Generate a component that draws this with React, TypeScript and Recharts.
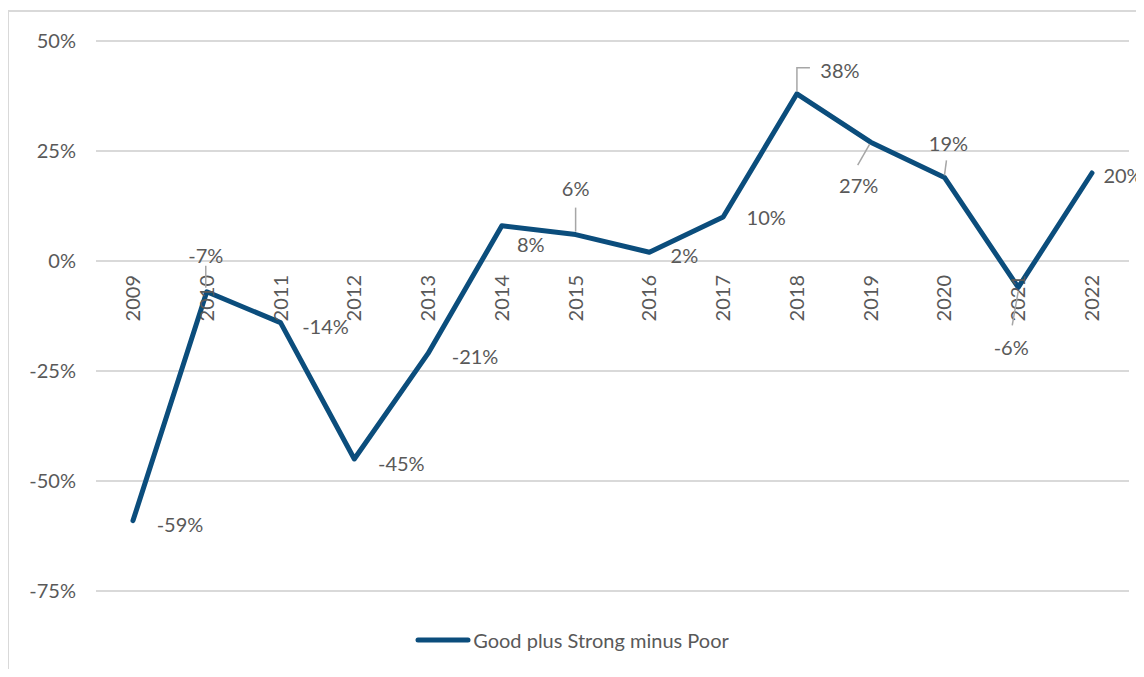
import React from 'react';
import {
  LineChart,
  Line,
  XAxis,
  YAxis,
  CartesianGrid,
  Legend,
  LabelList,
} from 'recharts';

const years = [
  '2009', '2010', '2011', '2012', '2013', '2014', '2015',
  '2016', '2017', '2018', '2019', '2020', '2021', '2022',
];
const netValues = [-59, -7, -14, -45, -21, 8, 6, 2, 10, 38, 27, 19, -6, 20];
const yTicks = [-75, -50, -25, 0, 25, 50];

const seriesName = 'Good plus Strong minus Poor';
const lineColor = '#0b4d7c';
const textColor = '#595959';
const gridColor = '#d9d9d9';
const font = 'Lato, "Open Sans", sans-serif';

// where each data label sits relative to its point, plus optional leader line
type Placement = { dx: number; dy: number; leader?: number[][] };
const placements: Placement[] = [
  { dx: 47, dy: 3 },
  { dx: -1, dy: -37, leader: [[-1, -26], [-1, -4]] },
  { dx: 45, dy: 3 },
  { dx: 47, dy: 4 },
  { dx: 47, dy: 3 },
  { dx: 29, dy: 18 },
  { dx: 0, dy: -47, leader: [[0, -27], [0, -3]] },
  { dx: 35, dy: 3 },
  { dx: 43, dy: 0 },
  { dx: 43, dy: -24, leader: [[13, -26], [0, -26], [0, -2]] },
  { dx: -12, dy: 43, leader: [[-1, 2], [-13, 23]] },
  { dx: 4, dy: -34, leader: [[2, -17], [0, -2]] },
  { dx: -7, dy: 60, leader: [[0, 4], [-6, 38]] },
  { dx: 31, dy: 2 },
];

const data = years.map((year, i) => ({ year, value: netValues[i] }));

const DataLabel = (props: any) => {
  const { x, y, value, index } = props;
  const p = placements[index];
  return (
    <g>
      {p.leader && (
        <polyline
          points={p.leader.map(([lx, ly]) => `${x + lx},${y + ly}`).join(' ')}
          fill='none'
          stroke='#a6a6a6'
          strokeWidth={1.5}
        />
      )}
      <text
        x={x + p.dx}
        y={y + p.dy}
        textAnchor='middle'
        dominantBaseline='central'
        fontSize={20}
        fontFamily={font}
        fill={textColor}
      >
        {`${value}%`}
      </text>
    </g>
  );
};

const YearLabel = (props: any) => {
  const { x, y, index } = props;
  return (
    <text
      transform={`translate(${x + 7},${y + 14}) rotate(-90)`}
      textAnchor='end'
      fontSize={20}
      fontFamily={font}
      fill={textColor}
    >
      {years[index]}
    </text>
  );
};

const LegendContent = () => (
  <div
    style={{
      display: 'flex',
      justifyContent: 'center',
      alignItems: 'center',
      fontFamily: font,
      fontSize: 20,
      color: textColor,
    }}
  >
    <svg width={56} height={10} style={{ marginRight: 2 }}>
      <line
        x1={3}
        y1={5}
        x2={53}
        y2={5}
        stroke={lineColor}
        strokeWidth={5}
        strokeLinecap='round'
      />
    </svg>
    <span>{seriesName}</span>
  </div>
);

export default function App() {
  return (
    <div
      style={{
        position: 'relative',
        margin: -8,
        width: 1144,
        height: 677,
        overflow: 'hidden',
        background: '#fff',
      }}
    >
      <div
        style={{
          position: 'absolute',
          left: 7,
          top: 10,
          width: 1160,
          height: 700,
          border: `2px solid ${gridColor}`,
        }}
      />
      <div style={{ position: 'absolute', left: 0, top: 0 }}>
        <LineChart
          width={1144}
          height={677}
          data={data}
          margin={{ top: 41, right: 15, bottom: 86, left: 0 }}
        >
          <CartesianGrid
            vertical={false}
            stroke={gridColor}
            strokeWidth={2}
          />
          <XAxis dataKey='year' hide padding={{ left: 37, right: 37 }} />
          <YAxis
            width={96}
            domain={[-75, 50]}
            ticks={yTicks}
            tickFormatter={(v) => `${v}%`}
            axisLine={false}
            tickLine={false}
            tickSize={0}
            tickMargin={20}
            tick={{ fill: textColor, fontSize: 20, fontFamily: font }}
          />
          <Legend
            verticalAlign='middle'
            align='center'
            layout='horizontal'
            content={<LegendContent />}
            wrapperStyle={{ left: 0, top: 628, width: 1144 }}
          />
          <Line
            dataKey={() => 0}
            stroke='none'
            dot={false}
            activeDot={false}
            legendType='none'
            isAnimationActive={false}
          >
            <LabelList content={<YearLabel />} />
          </Line>
          <Line
            type='linear'
            dataKey='value'
            name={seriesName}
            stroke={lineColor}
            strokeWidth={5}
            strokeLinecap='round'
            strokeLinejoin='round'
            dot={false}
            activeDot={false}
            isAnimationActive={false}
          >
            <LabelList dataKey='value' content={<DataLabel />} />
          </Line>
        </LineChart>
      </div>
    </div>
  );
}
